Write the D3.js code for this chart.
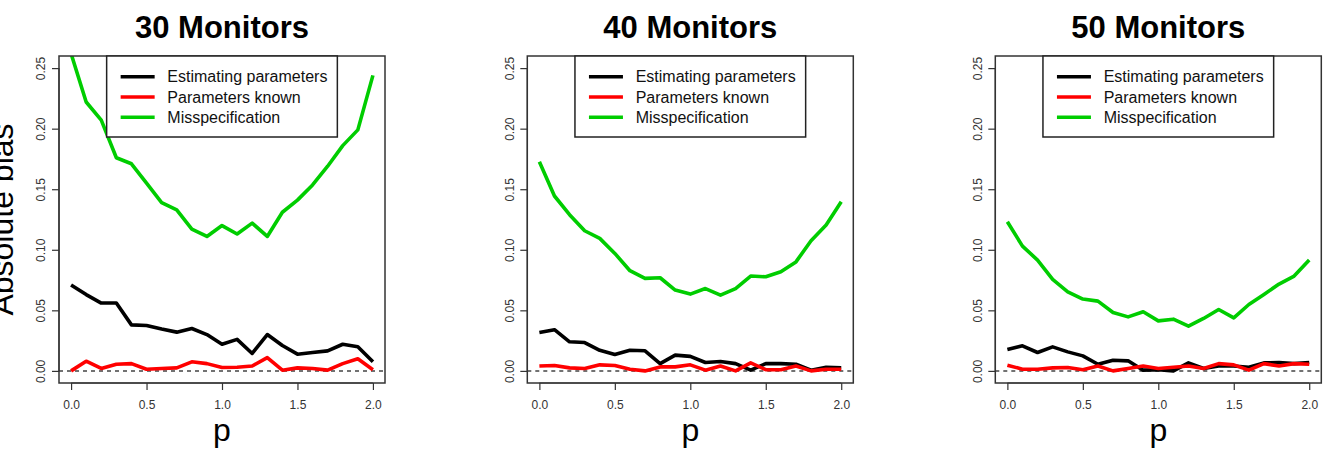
<!DOCTYPE html>
<html lang="en">
<head>
<meta charset="utf-8">
<title>Absolute bias by p</title>
<style>
  * { margin: 0; padding: 0; box-sizing: border-box; }
  body { background: #fff; width: 1326px; height: 453px; overflow: hidden; font-family: "Liberation Sans", Arial, Helvetica, sans-serif; }
  svg { display: block; }
  .title { font-size: 31px; font-weight: 700; fill: #000; }
  .axis-title { font-size: 32px; fill: #000; }
  .tick-label { font-size: 12px; fill: #333; }
  .legend-text { font-size: 16px; fill: #111; }
</style>
</head>
<body>
<svg id="chart" width="1326" height="453"></svg>
<script src="https://d3js.org/d3.v7.min.js"></script>
<script>
// p grid shared by all panels
const pValues = [0.0, 0.1, 0.2, 0.3, 0.4, 0.5, 0.6, 0.7, 0.8, 0.9, 1.0,
                 1.1, 1.2, 1.3, 1.4, 1.5, 1.6, 1.7, 1.8, 1.9, 2.0];

const panelTitles = ["30 Monitors", "40 Monitors", "50 Monitors"];
const seriesNames = ["Estimating parameters", "Parameters known", "Misspecification"];
const seriesColors = ["#000000", "#ff0000", "#00cd00"];

const xTicks = [0.0, 0.5, 1.0, 1.5, 2.0];
const yTicks = [0.00, 0.05, 0.10, 0.15, 0.20, 0.25];

// 30 monitors
const est30   = [0.071, 0.063, 0.056, 0.056, 0.038, 0.0375, 0.0345, 0.032, 0.035, 0.030, 0.022,
                 0.026, 0.0144, 0.030, 0.021, 0.0138, 0.0152, 0.0165, 0.022, 0.020, 0.0075];
const known30 = [0.000, 0.008, 0.002, 0.0055, 0.006, 0.0014, 0.002, 0.0025, 0.0075, 0.006, 0.0028,
                 0.003, 0.004, 0.011, 0.0006, 0.0025, 0.002, 0.0006, 0.006, 0.010, 0.001];
const miss30  = [0.262, 0.222, 0.207, 0.176, 0.171, 0.155, 0.139, 0.133, 0.117, 0.111, 0.120,
                 0.113, 0.122, 0.111, 0.131, 0.141, 0.1535, 0.169, 0.186, 0.199, 0.244];

// 40 monitors
const est40   = [0.0317, 0.034, 0.024, 0.0234, 0.017, 0.0135, 0.017, 0.0166, 0.006, 0.013, 0.012,
                 0.0069, 0.0078, 0.006, 0.0006, 0.006, 0.006, 0.0055, 0.0006, 0.003, 0.0025];
const known40 = [0.004, 0.0045, 0.0025, 0.002, 0.005, 0.0045, 0.0014, 0.000, 0.0033, 0.0033, 0.005,
                 0.0006, 0.004, 0.000, 0.0066, 0.001, 0.001, 0.004, 0.000, 0.0014, 0.0014];
const miss40  = [0.1727, 0.1444, 0.129, 0.1157, 0.1094, 0.097, 0.0827, 0.0764, 0.0769, 0.0667, 0.0634,
                 0.068, 0.0626, 0.068, 0.0783, 0.0777, 0.0818, 0.090, 0.1075, 0.1204, 0.1397];

// 50 monitors
const est50   = [0.0176, 0.0207, 0.0152, 0.0198, 0.0157, 0.0124, 0.0055, 0.0088, 0.0083, 0.0006, 0.001,
                 0.000, 0.0066, 0.002, 0.004, 0.004, 0.003, 0.0066, 0.0069, 0.006, 0.0069];
const known50 = [0.0047, 0.0014, 0.0014, 0.0025, 0.0028, 0.001, 0.004, 0.000, 0.002, 0.004, 0.002,
                 0.003, 0.004, 0.002, 0.006, 0.005, 0.0006, 0.006, 0.004, 0.006, 0.0055];
const miss50  = [0.1231, 0.103, 0.0915, 0.0755, 0.0653, 0.0593, 0.0576, 0.0482, 0.0446, 0.0488, 0.0413,
                 0.0427, 0.0369, 0.0433, 0.0507, 0.0438, 0.0548, 0.0631, 0.0717, 0.0783, 0.0915];

const panelSeries = [
  [est30, known30, miss30],
  [est40, known40, miss40],
  [est50, known50, miss50]
];

// layout
const panelLefts = [59, 527.3, 995.3];
const plotTop = 56, plotW = 326, plotH = 327;

const svg = d3.select("#chart");
const defs = svg.append("defs");

// R-style 4% padding on both axes
const x = d3.scaleLinear().domain([-0.08, 2.08]).range([0, plotW]);
const y = d3.scaleLinear().domain([-0.01, 0.26]).range([plotH, 0]);

const line = d3.line().x((d, i) => x(pValues[i])).y(d => y(d));

panelTitles.forEach((title, k) => {
  const g = svg.append("g").attr("transform", `translate(${panelLefts[k]},${plotTop})`);

  defs.append("clipPath").attr("id", "clip" + k)
    .append("rect").attr("x", 0).attr("y", 0).attr("width", plotW).attr("height", plotH);

  // title
  g.append("text").attr("class", "title")
    .attr("x", plotW / 2).attr("y", -18)
    .attr("text-anchor", "middle")
    .text(title);

  // zero reference line
  g.append("line")
    .attr("x1", 0).attr("x2", plotW)
    .attr("y1", y(0)).attr("y2", y(0))
    .attr("stroke", "#444").attr("stroke-width", 1.5)
    .attr("stroke-dasharray", "4,4");

  // series lines
  const lines = g.append("g").attr("clip-path", `url(#clip${k})`);
  panelSeries[k].forEach((vals, s) => {
    lines.append("path")
      .datum(vals)
      .attr("d", line)
      .attr("fill", "none")
      .attr("stroke", seriesColors[s])
      .attr("stroke-width", 3.6)
      .attr("stroke-linejoin", "round");
  });

  // x axis
  const xAxis = g.append("g").attr("transform", `translate(0,${plotH})`)
    .call(d3.axisBottom(x).tickValues(xTicks).tickFormat(d3.format(".1f")).tickSize(7).tickPadding(10));
  xAxis.select(".domain")
    .attr("d", `M${x(0)},0H${x(2)}`)
    .attr("stroke", "#333").attr("stroke-width", 1.2);
  xAxis.selectAll(".tick line").attr("stroke", "#333").attr("stroke-width", 1.2);
  xAxis.selectAll(".tick text").attr("class", "tick-label")
    .attr("font-family", null).attr("font-size", null).attr("fill", null);

  // y axis with rotated labels
  const yAxis = g.append("g")
    .call(d3.axisLeft(y).tickValues(yTicks).tickFormat(d3.format(".2f")).tickSize(7));
  yAxis.select(".domain")
    .attr("d", `M0,${y(0)}V${y(0.25)}`)
    .attr("stroke", "#333").attr("stroke-width", 1.2);
  yAxis.selectAll(".tick line").attr("stroke", "#333").attr("stroke-width", 1.2);
  yAxis.selectAll(".tick text").attr("class", "tick-label")
    .attr("font-family", null).attr("font-size", null).attr("fill", null)
    .attr("x", null).attr("dy", null)
    .attr("text-anchor", "middle")
    .attr("transform", "translate(-18,0) rotate(-90)")
    .attr("dy", "0.35em");

  // plot box
  g.append("rect")
    .attr("x", 0).attr("y", 0).attr("width", plotW).attr("height", plotH)
    .attr("fill", "none").attr("stroke", "#333").attr("stroke-width", 1.5);

  // x axis title
  g.append("text").attr("class", "axis-title")
    .attr("x", plotW / 2).attr("y", plotH + 58)
    .attr("text-anchor", "middle")
    .text("p");

  // legend, centered at the top
  const legW = 230.7, legH = 81;
  const leg = g.append("g").attr("transform", `translate(${(plotW - legW) / 2},0)`);
  leg.append("rect")
    .attr("width", legW).attr("height", legH)
    .attr("fill", "#fff").attr("stroke", "#222").attr("stroke-width", 1.5);
  seriesNames.forEach((name, s) => {
    const ly = 20.7 + s * 20.3;
    leg.append("line")
      .attr("x1", 14).attr("x2", 48).attr("y1", ly).attr("y2", ly)
      .attr("stroke", seriesColors[s]).attr("stroke-width", 3.6);
    leg.append("text").attr("class", "legend-text")
      .attr("x", 60.7).attr("y", ly).attr("dy", "0.35em")
      .text(name);
  });
});

// shared y axis title
svg.append("text").attr("class", "axis-title")
  .attr("transform", `translate(13,${plotTop + plotH / 2}) rotate(-90)`)
  .attr("text-anchor", "middle")
  .text("Absolute bias");
</script>
</body>
</html>
